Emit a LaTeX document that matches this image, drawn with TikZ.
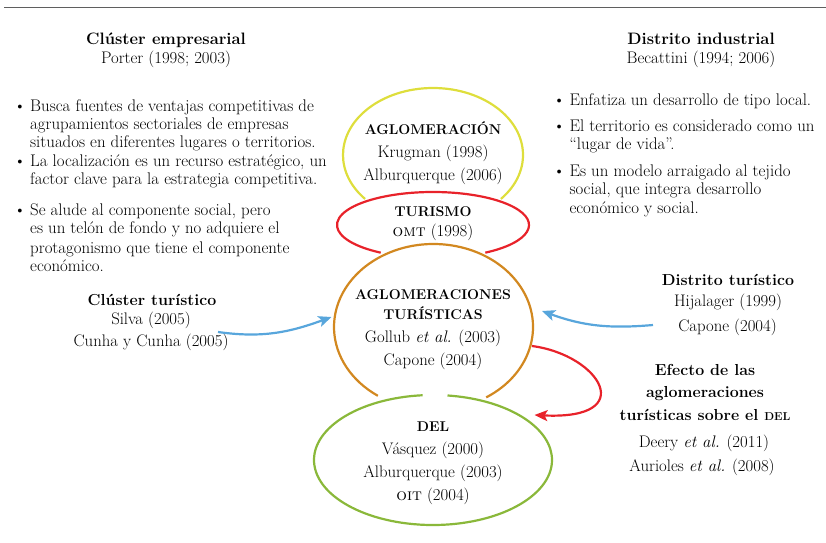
\documentclass[tikz,border=0pt]{standalone}
\usepackage{fontspec}
\usetikzlibrary{arrows.meta}

\definecolor{cyellow}{RGB}{222,222,60}
\definecolor{cred}{RGB}{232,34,42}
\definecolor{corange}{RGB}{210,136,32}
\definecolor{cgreen}{RGB}{138,184,58}
\definecolor{cblue}{RGB}{88,166,220}
\definecolor{rule}{RGB}{95,95,95}

\newcommand{\smallcapsbold}[1]{{\fontsize{11.5}{12}\selectfont\bfseries #1}}

\begin{document}
\begin{tikzpicture}[x=1bp,y=1bp,
  txt/.style={anchor=base, inner sep=0pt, font=\fontsize{16.8}{18}\selectfont},
  head/.style={anchor=base, inner sep=0pt, font=\fontsize{16.6}{18}\selectfont\bfseries},
  shead/.style={anchor=base, inner sep=0pt, font=\fontsize{16}{18}\selectfont\bfseries},
  rhead/.style={anchor=base, inner sep=0pt, font=\fontsize{14.2}{18}\selectfont\bfseries},
  bline/.style={anchor=base west, inner sep=0pt, font=\fontsize{16.9}{18}\selectfont},
  bdot/.style={anchor=base, inner sep=0pt, font=\fontsize{16.9}{18}\selectfont},
  ring/.style={line width=2.2bp},
  arr/.style={line width=2.2bp, -{Stealth[length=13bp,width=11bp,inset=3bp]}}
]
\useasboundingbox (0,0) rectangle (826,-543);

% top rule
\coordinate (ruleL) at (4,-7.5);
\coordinate (ruleR) at (826,-7.5);
\draw[rule, line width=1.6bp] (ruleL) -- (ruleR);

% column headings
\node[head] (ce) at (166,-44.3) {Clúster empresarial};
\node[txt] (ceref) at (166,-64) {Porter (1998; 2003)};
\node[head] (di) at (701,-44.3) {Distrito industrial};
\node[txt] (diref) at (701,-64) {Becattini (1994; 2006)};

% left bullet list
\node[bdot] (lb1) at (20,-111.7) {\textbullet};
\node[bline] (l1a) at (30,-111.7) {Busca fuentes de ventajas competitivas de};
\node[bline] (l1b) at (30,-130) {agrupamientos sectoriales de empresas};
\node[bline] (l1c) at (30,-147.3) {situados en diferentes lugares o territorios.};
\node[bdot] (lb2) at (20,-166.7) {\textbullet};
\node[bline] (l2a) at (30,-166.7) {La localización es un recurso estratégico, un};
\node[bline] (l2b) at (30,-184.3) {factor clave para la estrategia competitiva.};
\node[bdot] (lb3) at (20,-216) {\textbullet};
\node[bline] (l3a) at (30,-216) {Se alude al componente social, pero};
\node[bline] (l3b) at (30,-234) {es un telón de fondo y no adquiere el};
\node[bline] (l3c) at (30,-253.3) {protagonismo que tiene el componente};
\node[bline] (l3d) at (30,-271.7) {económico.};

% right bullet list
\node[bdot] (rb1) at (559.3,-106) {\textbullet};
\node[bline] (r1a) at (569.3,-106) {Enfatiza un desarrollo de tipo local.};
\node[bdot] (rb2) at (559.3,-131.7) {\textbullet};
\node[bline] (r2a) at (569.3,-131.7) {El territorio es considerado como un};
\node[bline] (r2b) at (569.3,-150) {“lugar de vida”.};
\node[bdot] (rb3) at (559.3,-176.7) {\textbullet};
\node[bline] (r3a) at (569.3,-176.7) {Es un modelo arraigado al tejido};
\node[bline] (r3b) at (569.3,-195) {social, que integra desarrollo};
\node[bline] (r3c) at (569.3,-213.3) {económico y social.};

% nested ellipses
\coordinate (cY) at (433,-155);
\coordinate (cR) at (433,-225);
\coordinate (cO) at (433.5,-327);
\coordinate (cG) at (433,-460);
\draw[ring,cyellow] ([shift={(-41:90bp and 67bp)}]cY)
  arc[start angle=-41, end angle=221, x radius=90bp, y radius=67bp];
\draw[ring,cred] ([shift={(-57:96bp and 33bp)}]cR)
  arc[start angle=-57, end angle=237, x radius=96bp, y radius=33bp];
\draw[ring,corange] ([shift={(-58:99.5bp and 83bp)}]cO)
  arc[start angle=-58, end angle=236, x radius=99.5bp, y radius=83bp];
\draw[ring,cgreen] ([shift={(95:119bp and 65bp)}]cG)
  arc[start angle=95, end angle=443, x radius=119bp, y radius=65bp];

% ellipse contents
\node[rhead] (ag1) at (433,-135) {AGLOMERACIÓN};
\node[txt] (ag2) at (433,-157.3) {Krugman (1998)};
\node[txt] (ag3) at (433,-180.7) {Alburquerque (2006)};
\node[rhead] (tu1) at (433,-216.7) {TURISMO};
\node[txt] (tu2) at (433,-236.7) {\textsc{omt} (1998)};
\node[rhead] (at1) at (433,-300) {AGLOMERACIONES};
\node[rhead] (at2) at (433,-320) {TURÍSTICAS};
\node[txt] (at3) at (433,-342.3) {Gollub \textit{et al.} (2003)};
\node[txt] (at4) at (433,-365) {Capone (2004)};
\node[rhead] (de1) at (433,-431.7) {DEL};
\node[txt] (de2) at (433,-454) {Vásquez (2000)};
\node[txt] (de3) at (433,-477.3) {Alburquerque (2003)};
\node[txt] (de4) at (433,-500) {\textsc{oit} (2004)};

% side labels
\node[shead] (ct1) at (152,-306) {Clúster turístico};
\node[txt] (ct2) at (151,-325) {Silva (2005)};
\node[txt] (ct3) at (151,-346.7) {Cunha y Cunha (2005)};
\node[shead] (dt1) at (728,-286) {Distrito turístico};
\node[txt] (dt2) at (728,-306.7) {Hijalager (1999)};
\node[txt] (dt3) at (727.5,-331) {Capone (2004)};
\node[shead] (ef1) at (705,-375.7) {Efecto de las};
\node[shead] (ef2) at (705,-397.7) {aglomeraciones};
\node[shead] (ef3) at (705,-420.7) {turísticas sobre el \smallcapsbold{DEL}};
\node[txt] (ef4) at (704,-447.3) {Deery \textit{et al.} (2011)};
\node[txt] (ef5) at (702,-471) {Aurioles \textit{et al.} (2008)};

% connectors
\coordinate (b1s) at (218,-332);
\coordinate (b1e) at (331.5,-317);
\draw[arr,cblue] (b1s) to[out=-8, in=200] (b1e);
\coordinate (b2s) at (653,-325);
\coordinate (b2e) at (542,-311);
\draw[arr,cblue] (b2s) to[out=185, in=-20] (b2e);
\coordinate (r1s) at (532,-346);
\coordinate (r1e) at (534.5,-415);
\draw[arr,cred] (r1s) .. controls (600,-355) and (640,-420) .. (r1e);
\end{tikzpicture}
\end{document}
